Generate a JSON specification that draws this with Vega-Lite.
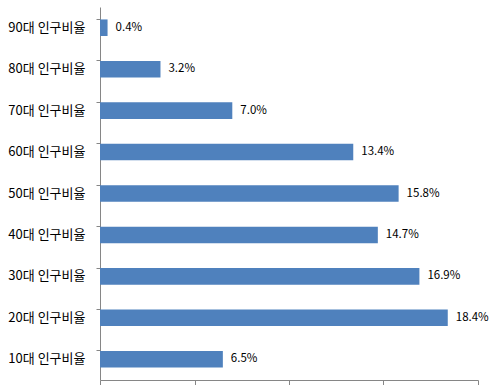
{
  "$schema": "https://vega.github.io/schema/vega-lite/v6.json",
  "width": 378,
  "height": 373,
  "autosize": {"type": "none"},
  "padding": {"left": 100, "top": 7, "right": 23, "bottom": 5},
  "background": "white",
  "config": {"view": {"stroke": null}},
  "data": {
    "values": [
      {"group": "90대 인구비율", "ratio": 0.004},
      {"group": "80대 인구비율", "ratio": 0.032},
      {"group": "70대 인구비율", "ratio": 0.070},
      {"group": "60대 인구비율", "ratio": 0.134},
      {"group": "50대 인구비율", "ratio": 0.158},
      {"group": "40대 인구비율", "ratio": 0.147},
      {"group": "30대 인구비율", "ratio": 0.169},
      {"group": "20대 인구비율", "ratio": 0.184},
      {"group": "10대 인구비율", "ratio": 0.065}
    ]
  },
  "encoding": {
    "y": {
      "field": "group",
      "type": "nominal",
      "sort": null,
      "scale": {"paddingInner": 0.6, "paddingOuter": 0.3},
      "axis": {
        "title": null,
        "bandPosition": 0,
        "domainColor": "#868686",
        "tickColor": "#868686",
        "tickSize": 4,
        "labelPadding": 11,
        "labelFont": "Noto Sans CJK KR",
        "labelFontSize": 13,
        "labelColor": "#000000"
      }
    },
    "x": {
      "field": "ratio",
      "type": "quantitative",
      "scale": {"domain": [0, 0.2], "nice": false},
      "axis": {
        "title": null,
        "values": [0, 0.05, 0.1, 0.15, 0.2],
        "labels": false,
        "grid": false,
        "domainColor": "#868686",
        "tickColor": "#868686",
        "tickSize": 5
      }
    }
  },
  "layer": [
    {"mark": {"type": "bar", "color": "#4F81BD"}},
    {
      "mark": {"type": "text", "align": "left", "baseline": "middle", "dx": 8, "font": "Noto Sans CJK KR", "fontSize": 11.5, "color": "#000000"},
      "encoding": {"text": {"field": "ratio", "type": "quantitative", "format": ".1%"}}
    }
  ]
}
